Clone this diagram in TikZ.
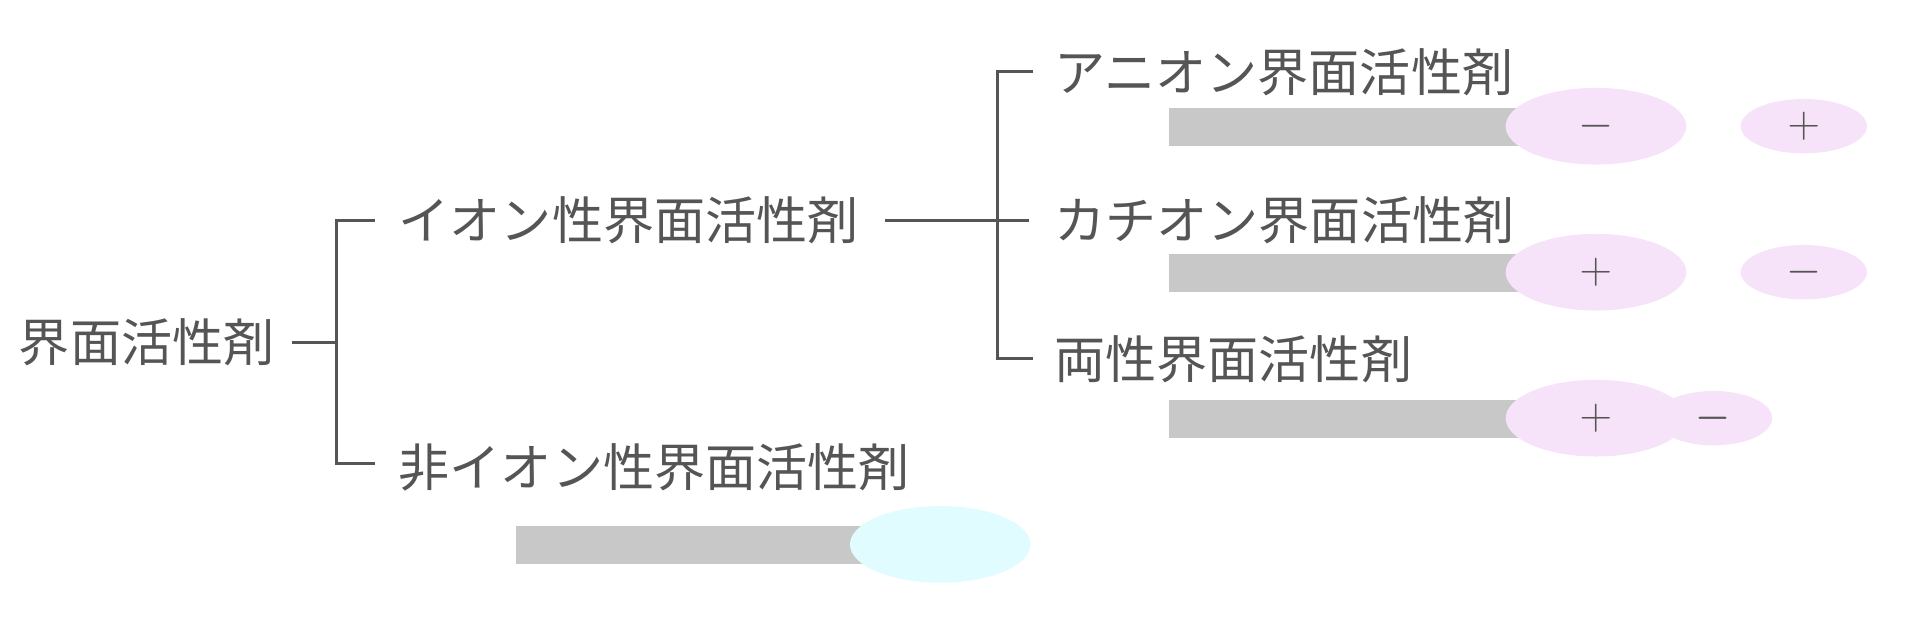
\documentclass[tikz,border=0pt]{standalone}
\usepackage{fontspec}
\setmainfont{Noto Sans CJK JP}
\usetikzlibrary{positioning,shapes.geometric}
\definecolor{txtgray}{HTML}{555555}
\definecolor{bargray}{HTML}{C8C8C8}
\definecolor{ionpink}{HTML}{F7E3F9}
\definecolor{noncyan}{HTML}{E0FCFF}
\tikzset{
  label/.style={anchor=west, inner sep=0pt, text=txtgray, font=\fontsize{23.5}{28}\selectfont},
  branch/.style={draw=txtgray, line width=1.4pt},
  tail/.style={fill=bargray, draw=none},
  headbig/.style={ellipse, fill=ionpink, draw=none, minimum width=2.92cm, minimum height=1.24cm, inner sep=0pt, text=txtgray, font=\fontsize{20}{20}\selectfont},
  headsmall/.style={ellipse, fill=ionpink, draw=none, minimum width=2.04cm, minimum height=0.88cm, inner sep=0pt, text=txtgray, font=\fontsize{20}{20}\selectfont}
}
\begin{document}
\begin{tikzpicture}[x=0.02cm, y=-0.02cm]
        \useasboundingbox (0,0) rectangle (1560,498);
        % labels of the tree
        \node[label] (root) at (15,277) {界面活性剤};
        \node[label] (ionic) at (322,178) {イオン性界面活性剤};
        \node[label] (nonionic) at (322,378) {非イオン性界面活性剤};
        \node[label] (anion) at (852,58) {アニオン界面活性剤};
        \node[label] (cation) at (852,178) {カチオン界面活性剤};
        \node[label] (ampho) at (852,290) {両性界面活性剤};
        
        % tree branches
        \coordinate (j1) at (272,277);
        \coordinate (j2) at (806,178);
        \coordinate (ionicend) at (715,178);
        \coordinate (cationend) at (832,178);
        \draw[branch] (236,277) -- (j1);
        \draw[branch] (303,178) -| (j1) |- (303,375);
        \draw[branch] (ionicend) -- (cationend);
        \draw[branch] (835,58) -| (j2) |- (835,290);
        
        % surfactant molecules
        \node[headsmall] (ansmall) at (1458,102) {$+$};
        \node[headsmall] (casmall) at (1458,220) {$-$};
        \node[headsmall, minimum width=1.9cm] (amsmall) at (1385,338) {$-$};
        \foreach \name/\yy/\sign in {an/102/$-$, ca/220/$+$, am/338/$+$}{
          \fill[tail] (945,\yy-15) rectangle (1228,\yy+16);
          \node[headbig] (\name big) at (1290,\yy) {\sign};
        }
        \node[font=\fontsize{20}{20}\selectfont, text=txtgray] (amminus) at (amsmall) {$-$};
        \fill[tail] (417,425) rectangle (700,456);
        \node[headbig, fill=noncyan] (nonhead) at (760,440) {};
\end{tikzpicture}
\end{document}
